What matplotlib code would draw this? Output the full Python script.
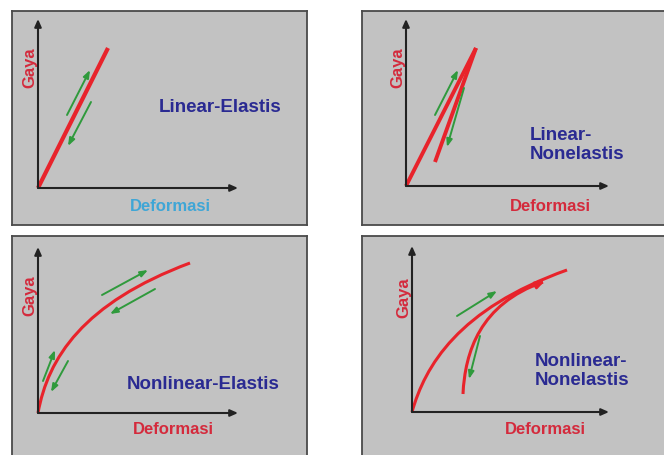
import matplotlib
matplotlib.use('Agg')
import matplotlib.pyplot as plt
from matplotlib.path import Path
from matplotlib.patches import PathPatch

# curves, units: 10 px from each panel's origin
p1_x = [0, 7.0]
p1_y = [0, 14.0]
p1_green = [[(2.9, 7.3), (5.2, 11.8)], [(5.3, 8.6), (3.0, 4.2)]]

p2_load_x = [0, 7.0]
p2_load_y = [0, 13.8]
p2_unload_x = [7.0, 2.9]
p2_unload_y = [13.8, 2.4]
p2_green = [[(2.9, 7.1), (5.2, 11.6)], [(5.8, 9.8), (4.1, 3.9)]]

# bezier nodes (start, ctrl, ctrl, end)
p3_curve = [(0, 0), (1.0, 5.5), (4.5, 11.0), (15.2, 15.0)]
p3_green = [[(0.5, 3.2), (1.7, 6.3)], [(3.0, 5.2), (1.3, 2.1)],
            [(6.4, 11.8), (11.0, 14.3)], [(11.7, 12.4), (7.2, 9.9)]]

p4_load = [(0, 0), (1.3, 4.6), (4.6, 10.3), (15.5, 14.2)]
p4_unload = [(5.1, 1.8), (5.3, 6.0), (6.8, 10.8), (13.1, 13.0)]
p4_tip = [(12.2, 12.6), (13.3, 13.1)]
p4_green = [[(4.5, 9.6), (8.5, 12.1)], [(6.8, 7.6), (5.7, 3.3)]]

titles = ['Linear-Elastis', 'Linear-\nNonelastis', 'Nonlinear-Elastis', 'Nonlinear-\nNonelastis']
xlabel = 'Deformasi'
ylabel = 'Gaya'

RED = '#e8232b'
LBL_RED = '#d42a3c'
GREEN = '#2f9a3c'
BLUE = '#2a2a92'
CYAN = '#3fa6d6'
BG = '#c2c2c2'

W, H = 664, 456
fig = plt.figure(figsize=(W/100, H/100), dpi=100)


def panel(box, origin, axlen):
    left, top, w, h = box
    ox, oy = origin
    ax = fig.add_axes([left/W, 1-(top+h)/H, w/W, h/H])
    ax.set_xlim((left-ox)/10, (left+w-ox)/10)
    ax.set_ylim((oy-top-h)/10, (oy-top)/10)
    ax.set_facecolor(BG)
    ax.set_xticks([])
    ax.set_yticks([])
    for s in ax.spines.values():
        s.set_color('#4a4a4a')
        s.set_linewidth(1.3)
    arr = dict(arrowstyle='-|>,head_length=0.45,head_width=0.2', color='#222222', lw=1.5, shrinkA=0, shrinkB=0)
    ax.annotate('', xy=(0, axlen[1]), xytext=(0, 0), arrowprops=arr)
    ax.annotate('', xy=(axlen[0], 0), xytext=(0, 0), arrowprops=arr)
    return ax


def bez(ax, pts, lw=2.2):
    codes = [Path.MOVETO] + [Path.CURVE4]*(len(pts)-1)
    ax.add_patch(PathPatch(Path(pts, codes), fc='none', ec=RED, lw=lw, capstyle='butt'))


def green(ax, arrows):
    for (x0, y0), (x1, y1) in arrows:
        ax.annotate('', xy=(x1, y1), xytext=(x0, y0),
                    arrowprops=dict(arrowstyle='-|>,head_length=0.45,head_width=0.17',
                                    color=GREEN, lw=1.4, shrinkA=0, shrinkB=0))


def labels(ax, gy, dx, dy, dcol):
    ax.text(-0.85, gy, ylabel, rotation=90, ha='center', va='center', color=LBL_RED,
            fontsize=12, fontweight='bold', family='Liberation Sans')
    ax.text(dx, dy, xlabel, ha='center', va='center', color=dcol,
            fontsize=12, fontweight='bold', family='Liberation Sans')


tfont = dict(fontsize=13.5, fontweight='bold', family='Liberation Sans', color=BLUE)

ax1 = panel((12, 12, 295, 214), (38, 189), (20.0, 16.9))
ax1.plot(p1_x, p1_y, color=RED, lw=3, solid_capstyle='butt')
green(ax1, p1_green)
labels(ax1, 12.1, 13.2, -1.8, CYAN)
ax1.text(18.2, 8.1, titles[0], ha='center', va='center', **tfont)

ax2 = panel((362, 12, 310, 214), (406, 187), (20.3, 16.7))
ax2.plot(p2_load_x, p2_load_y, color=RED, lw=2.8, solid_capstyle='butt')
ax2.plot(p2_unload_x, p2_unload_y, color=RED, lw=2.8, solid_capstyle='butt')
green(ax2, p2_green)
labels(ax2, 11.9, 14.4, -2.0, LBL_RED)
ax2.text(12.4, 4.2, titles[1], ha='left', va='center', linespacing=1.15, **tfont)

ax3 = panel((12, 237, 295, 222), (38, 414), (20.0, 16.6))
bez(ax3, p3_curve)
green(ax3, p3_green)
labels(ax3, 11.8, 13.5, -1.6, LBL_RED)
ax3.text(16.5, 2.9, titles[2], ha='center', va='center', **tfont)

ax4 = panel((362, 237, 310, 222), (412, 413), (19.7, 16.6))
bez(ax4, p4_load)
bez(ax4, p4_unload)
ax4.annotate('', xy=p4_tip[1], xytext=p4_tip[0],
             arrowprops=dict(arrowstyle='-|>,head_length=0.5,head_width=0.2', color=RED, lw=2.0,
                             shrinkA=0, shrinkB=0))
green(ax4, p4_green)
labels(ax4, 11.5, 13.3, -1.7, LBL_RED)
ax4.text(12.3, 4.2, titles[3], ha='left', va='center', linespacing=1.15, **tfont)

fig.savefig('out.png', dpi=100, facecolor='white')
